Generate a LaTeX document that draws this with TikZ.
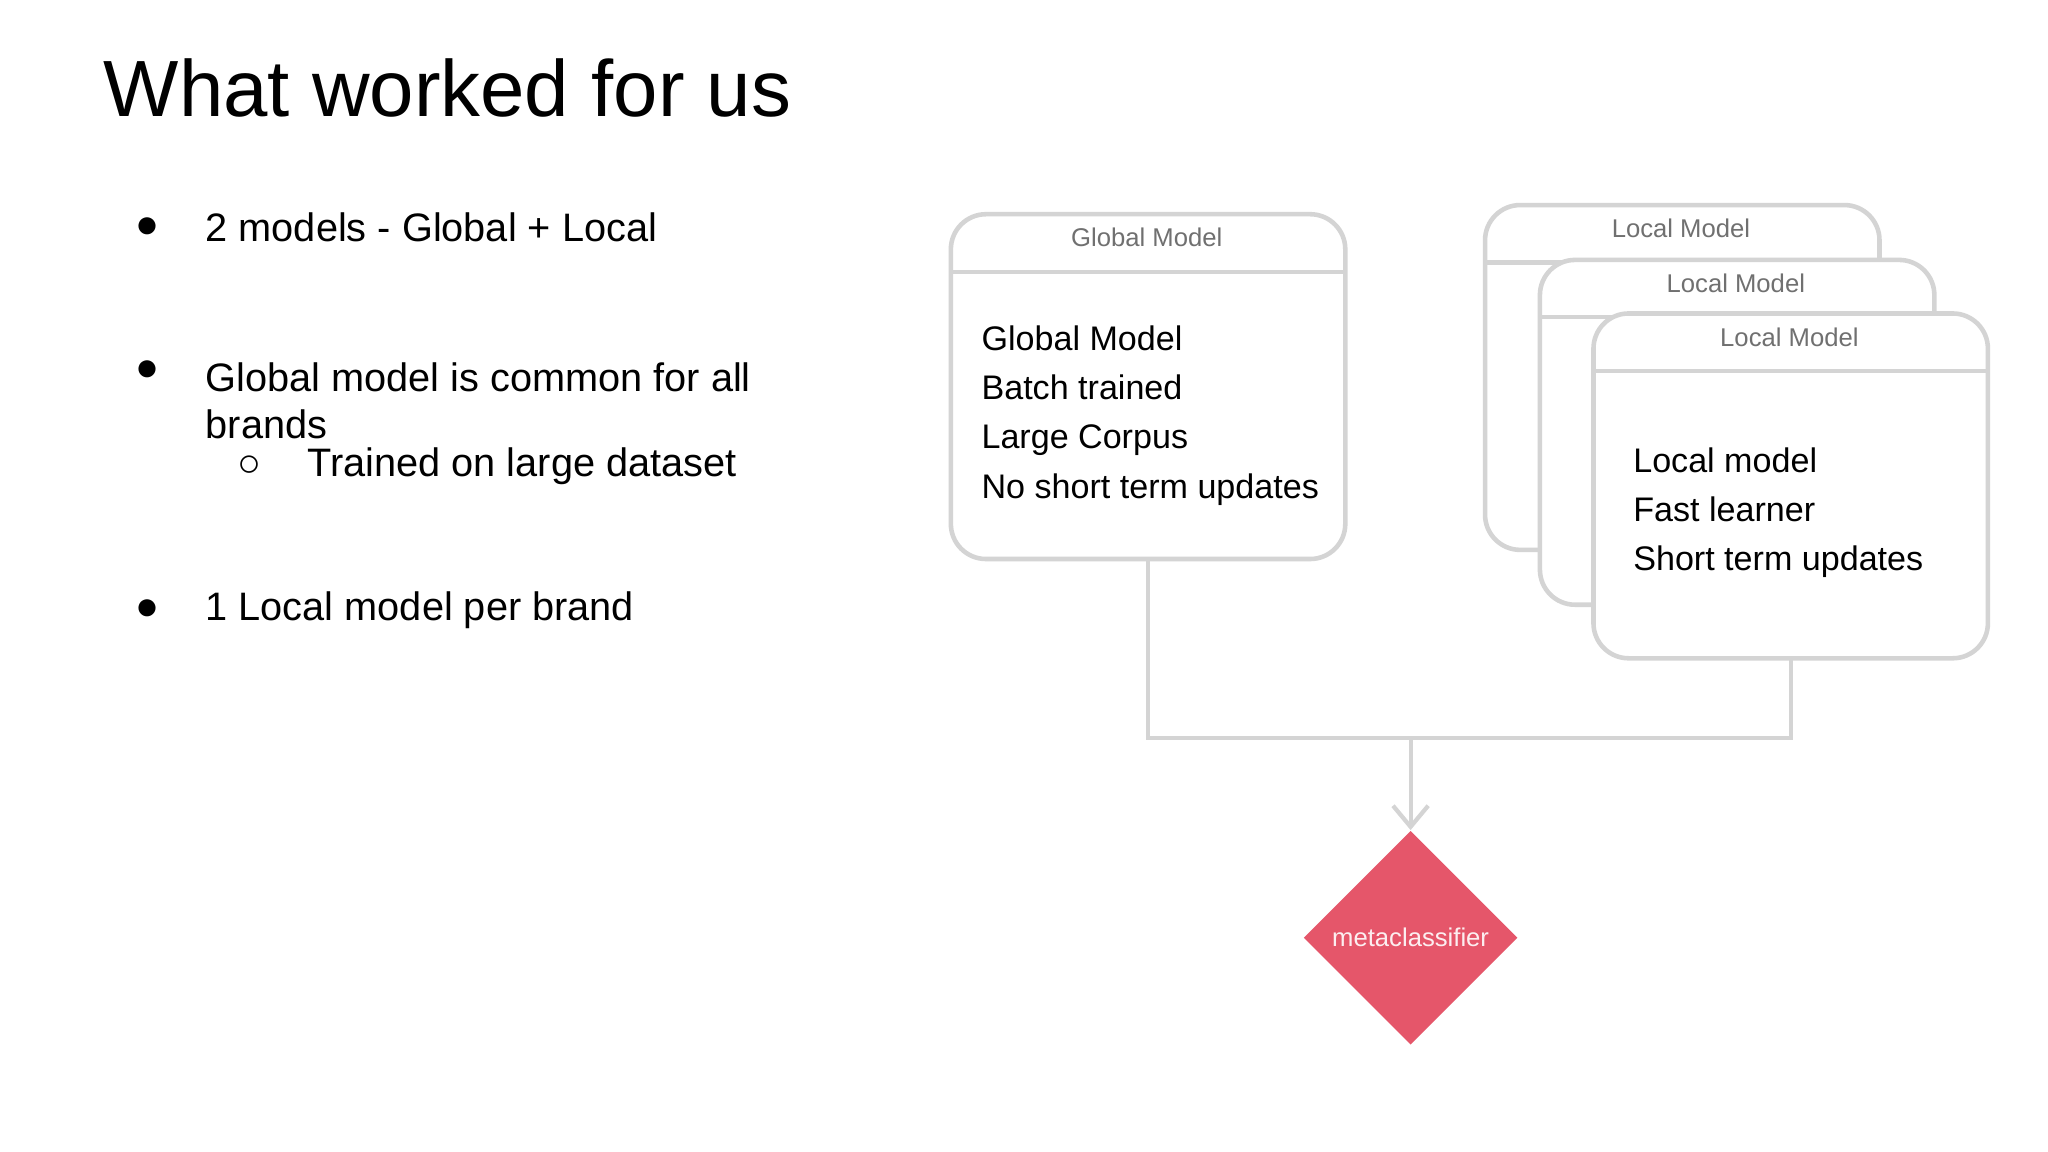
\documentclass[tikz,border=0pt]{standalone}
\usepackage{fontspec}
\setmainfont{Liberation Sans}
\usetikzlibrary{shapes.geometric,arrows.meta}
\definecolor{boxline}{HTML}{D4D4D4}
\definecolor{hdr}{HTML}{707070}
\definecolor{mred}{HTML}{E5566A}
\tikzset{
 mbox/.style={draw=boxline,line width=1.3pt,fill=white,rounded corners=10pt},
 hline/.style={draw=boxline,line width=1.2pt},
 htext/.style={text=hdr,font=\fontsize{7.3}{9}\selectfont},
 btext/.style={anchor=west,font=\fontsize{9.7}{12}\selectfont,align=left},
 bul/.style={anchor=west,font=\fontsize{11.3}{13.5}\selectfont,align=left},
 conn/.style={draw=boxline,line width=1.2pt}
}
\begin{document}
\begin{tikzpicture}[x=0.013061cm,y=-0.013061cm]
\useasboundingbox[fill=white] (0,0) rectangle (1568,882);
\node[anchor=base west,font=\fontsize{22.7}{26}\selectfont] (title) at (70,89) {What worked for us};
\node[bul] (b1d) at (94,174) {●};
\node[bul] (b1) at (148,174) {2 models - Global + Local};
\node[bul] (b2d) at (94,284) {●};
\node[bul,anchor=north west] (b2) at (148,268) {Global model is common for all\\brands};
\node[bul] (b3d) at (172,357) {○};
\node[bul] (b3) at (226,357) {Trained on large dataset};
\node[bul] (b4d) at (94,467) {●};
\node[bul] (b4) at (148,467) {1 Local model per brand};
% global box
\draw[mbox] (728,164) rectangle (1030,428);
\draw[hline] (728,208) -- (1030,208);
\node[htext] (gh) at (878,182) {Global Model};
\node[btext,anchor=north west] (gb) at (742,240) {Global Model\\[2pt]Batch trained\\[2pt]Large Corpus\\[2pt]No short term updates};
\coordinate (gs) at (879,428);
% local boxes
\foreach \i/\dx/\dy in {1/0/0,2/42/42,3/83/83}{
 \draw[mbox] (1137+\dx,157+\dy) rectangle (1439+\dx,421+\dy);
 \draw[hline] (1137+\dx,201+\dy) -- (1439+\dx,201+\dy);
 \node[htext] (lh\i) at (1287+\dx,175+\dy) {Local Model};
}
\node[btext,anchor=north west] (lb) at (1241,333) {Local model\\[2pt]Fast learner\\[2pt]Short term updates};
\coordinate (ls) at (1371,504);
% diamond
\node[diamond,fill=mred,inner sep=0pt,minimum width=2.14cm,minimum height=2.14cm,aspect=1,text=white!90!mred,font=\fontsize{7.3}{9}\selectfont] (meta) at (1080,718) {metaclassifier};
\coordinate (j) at (1080,565);
\draw[conn] (gs) |- (j) -| (ls);
\draw[conn,-{Straight Barb[length=6pt,width=10pt]}] (j) -- (meta.north);
\end{tikzpicture}
\end{document}
